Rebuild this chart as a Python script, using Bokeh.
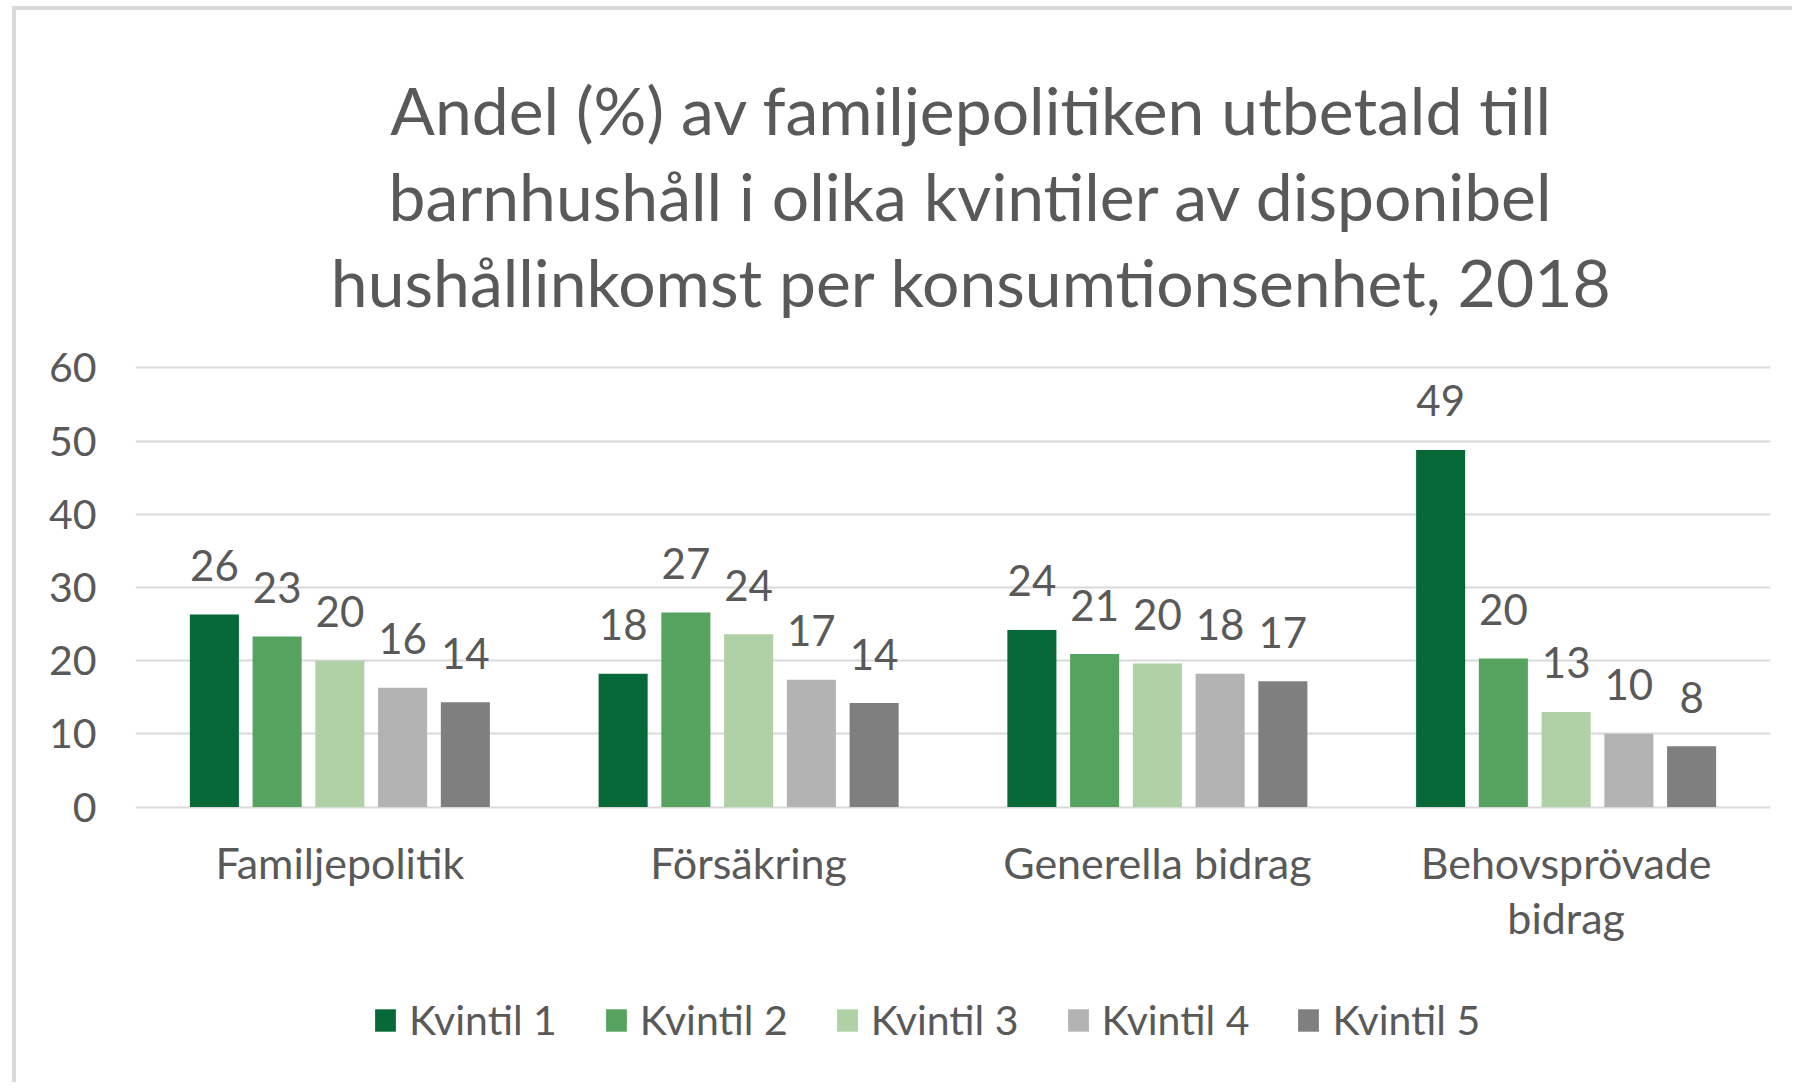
from bokeh.plotting import figure
from bokeh.models import ColumnDataSource, FactorRange, Range1d, Label, Legend, LegendItem, FixedTicker
from bokeh.transform import dodge
from bokeh.core.properties import value
from bokeh.embed import file_html
from bokeh.resources import INLINE

# ---------------- data ----------------
categories = ["Familjepolitik", "Försäkring", "Generella bidrag", "Behovsprövade\nbidrag"]
series_names = ["Kvintil 1", "Kvintil 2", "Kvintil 3", "Kvintil 4", "Kvintil 5"]
kvintil_1 = [26.3, 18.2, 24.2, 48.8]
kvintil_2 = [23.3, 26.6, 20.9, 20.3]
kvintil_3 = [20.0, 23.6, 19.6, 13.0]
kvintil_4 = [16.3, 17.4, 18.2, 10.0]
kvintil_5 = [14.3, 14.2, 17.2, 8.3]
y_ticks = [0, 10, 20, 30, 40, 50, 60]
title_lines = [
    "Andel (%) av familjepolitiken utbetald till",
    "barnhushåll i olika kvintiler av disponibel",
    "hushållinkomst per konsumtionsenhet, 2018",
]

# ---------------- style / layout ----------------
colors = ["#076937", "#55a35e", "#b0d1a5", "#b3b3b3", "#7f7f7f"]
FONT = "Lato"
TXT = "#595959"
bar_width = 0.12
pitch = 0.1535
W, H = 1780, 1076
# the plot frame covers the whole canvas height; the value axis keeps
# 0..60 at the reference pixel positions (7.3167 px per unit)
y_lo, y_hi = -38.2, 108.86
title_y = [977, 891, 805]      # baselines, px above canvas bottom
title_x = 836                  # px from frame left

series_values = [kvintil_1, kvintil_2, kvintil_3, kvintil_4, kvintil_5]

p = figure(
    x_range=FactorRange(factors=categories, range_padding=0),
    y_range=Range1d(y_lo, y_hi),
    width=W, height=H,
    output_backend="svg", toolbar_location=None,
    min_border_left=119, min_border_right=26,
    min_border_top=0, min_border_bottom=0,
    title=None,
)
p.styles = {"margin-left": "12px", "margin-top": "6px",
            "border-left": "4px solid #d9d9d9", "border-top": "4px solid #d9d9d9"}
p.outline_line_color = None
p.background_fill_color = "white"
p.border_fill_color = "white"

items = []
for i, (name, vals) in enumerate(zip(series_names, series_values)):
    off = (i - 2) * pitch
    src = ColumnDataSource(dict(cat=categories, val=vals,
                                lbl=["{:.0f}".format(v) for v in vals]))
    r = p.vbar(x=dodge("cat", off, range=p.x_range), top="val", bottom=0, width=bar_width,
               source=src, fill_color=colors[i], line_color=None)
    p.text(x=dodge("cat", off, range=p.x_range), y="val", text="lbl", source=src,
           text_align="center", text_baseline="alphabetic", y_offset=-49,
           text_font=value(FONT), text_font_size="42px", text_color=TXT)
    items.append(LegendItem(label=name, renderers=[r]))

# category labels under the bars
cat_src = ColumnDataSource(dict(cat=categories, base=[0] * len(categories)))
p.text(x="cat", y="base", text="cat", source=cat_src, text_align="center",
       text_baseline="top", y_offset=30, text_line_height=1.07,
       text_font=value(FONT), text_font_size="43px", text_color=TXT)

legend = Legend(items=items, orientation="horizontal", location=(237, 42),
                padding=0, margin=0, spacing=46, label_standoff=11,
                glyph_width=26, glyph_height=28,
                label_text_font=FONT, label_text_font_size="41px",
                label_text_color=TXT, border_line_color=None,
                background_fill_alpha=0)
p.add_layout(legend, "center")

# axes
p.xaxis.visible = False
p.yaxis.ticker = FixedTicker(ticks=y_ticks)
p.yaxis.axis_line_color = None
p.yaxis.major_tick_line_color = None
p.yaxis.minor_tick_line_color = None
p.yaxis.major_label_standoff = 33
p.yaxis.major_label_text_font = FONT
p.yaxis.major_label_text_font_size = "41px"
p.yaxis.major_label_text_color = TXT

p.xgrid.grid_line_color = None
p.ygrid.grid_line_color = "#d9d9d9"
p.ygrid.grid_line_width = 2

# title lines
for line, ty in zip(title_lines, title_y):
    p.add_layout(Label(text=line, x=title_x, y=ty, x_units="screen", y_units="screen",
                       text_align="center", text_baseline="alphabetic",
                       text_font=FONT, text_font_size="66px", text_color=TXT))

open("out.html", "w").write(file_html(p, INLINE))
